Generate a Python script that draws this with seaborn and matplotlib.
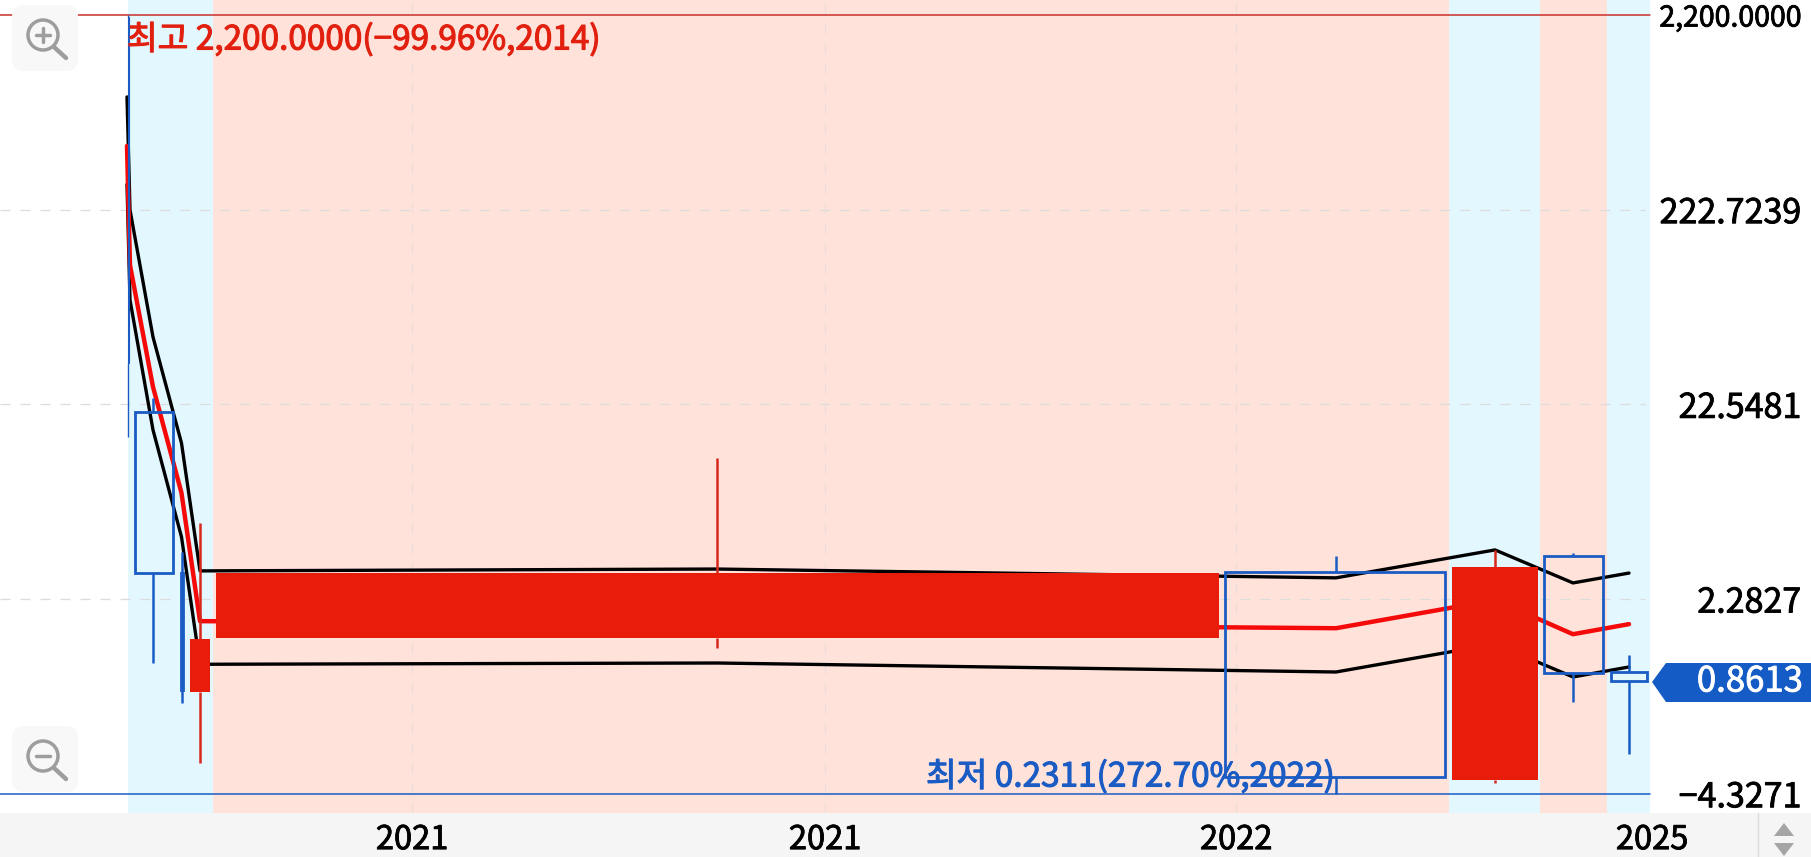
import pandas as pd
import matplotlib.pyplot as plt
import matplotlib.patheffects as pe
import seaborn as sns
from matplotlib.patches import Circle, FancyBboxPatch, Polygon, Rectangle

# Equivolume candles: x is cumulative volume position, so widths differ
candle_left = [127.5, 134.5, 180.5, 190, 216, 1225, 1452, 1543.5, 1610.5]
candle_width = [1, 38.5, 2, 20, 1002.5, 220, 86, 59.5, 36.5]
candle_x = [128, 153, 181.5, 200, 717, 1336, 1495, 1573, 1629]
candle_top = [2150, 20.6, 3.10, 1.427, 3.10, 3.14, 3.33, 3.79, 0.968]
candle_bottom = [36.7, 3.10, 0.783, 0.765, 1.444, 0.2815, 0.2717, 0.957, 0.871]
candle_high = [2200, 24.3, 3.97, 5.59, 12.0, 3.79, 4.07, 3.93, 1.18]
candle_low = [15.4, 1.076, 0.672, 0.332, 1.284, 0.2311, 0.2623, 0.68, 0.369]
candle_up = [False, False, False, True, True, False, True, False, False]

# Moving average and its two bands
line_x = [127, 130, 153, 181.5, 200, 717, 1336, 1495, 1573, 1629]
upper_band = [839, 222, 49.8, 14.3, 3.18, 3.25, 2.93, 4.07, 2.76, 3.10]
middle_line = [471, 116, 27.7, 7.95, 1.76, 1.72, 1.62, 2.26, 1.51, 1.70]
lower_band = [300, 77, 16.7, 4.74, 1.06, 1.076, 0.968, 1.346, 0.913, 1.027]

# Background regimes
region_edges = [128, 213, 1448.5, 1540, 1606.5, 1650]
region_colors = ['#e3f7ff', '#ffe3db', '#e3f7ff', '#ffe3db', '#e3f7ff']

y_ticks = [2200, 222.7239, 22.5481, 2.2827, 0.2311]
y_tick_labels = ['2,200.0000', '222.7239', '22.5481', '2.2827', '\u22124.3271']
x_ticks = [412, 825, 1236, 1652]
x_tick_labels = ['2021', '2021', '2022', '2025']

high_value = 2200
low_value = 0.2311
last_price = '0.8613'
high_text = '최고 2,200.0000(\u221299.96%,2014)'
low_text = '최저 0.2311(272.70%,2022)'

RED = '#e81c0a'
WICK_RED = '#d8281c'
BLUE = '#1a5cc4'
W, H = 1811, 857

sns.set_theme(style='white')
plt.rcParams['font.family'] = ['Noto Sans CJK KR', 'DejaVu Sans']


def heavier(text, color, width=0.6):
    # the reference uses a medium weight, regular plus a thin stroke is close
    text.set_path_effects([pe.withStroke(linewidth=width, foreground=color)])


fig = plt.figure(figsize=(W / 100, H / 100), dpi=100, facecolor='white')
fig.add_artist(Rectangle((0, 0), 1, 44 / H, transform=fig.transFigure,
                         facecolor='#f5f5f5', edgecolor='none', zorder=-1))

ax = fig.add_axes([0, 44 / H, 1652 / W, 813 / H])
ax.set_yscale('log')
ax.set_xlim(0, 1652)
ax.set_ylim(0.1843, 2624)
ax.set_facecolor('white')
for side in ax.spines.values():
    side.set_visible(False)

for i, color in enumerate(region_colors):
    ax.axvspan(region_edges[i], region_edges[i + 1], color=color, lw=0, zorder=0)

ax.set_yticks(y_ticks)
ax.set_yticklabels(y_tick_labels, fontsize=24.5, color='black', ha='right')
ax.minorticks_off()
ax.yaxis.tick_right()
ax.tick_params(axis='y', length=0, pad=107.5)
ax.get_yticklabels()[0].set_fontsize(20.5)
for label in ax.get_yticklabels():
    heavier(label, 'black')
ax.set_xticks(x_ticks)
ax.set_xticklabels(x_tick_labels, fontsize=23.5, color='black')
ax.tick_params(axis='x', length=0, pad=8)
for label in ax.get_xticklabels():
    heavier(label, 'black')

for y in y_ticks[1:4]:
    ax.axhline(y, xmax=1645 / 1652, color='#dcdcdc', lw=0.9, dashes=(8, 8), zorder=1)
for x in x_ticks[:3]:
    ax.axvline(x, color='#eadcd8', lw=0.9, dashes=(8, 8), zorder=1)

ax.axhline(high_value, xmax=1650 / 1652, color='#c8302a', lw=1.1, zorder=2)
ax.axhline(low_value, xmax=1650 / 1652, color=BLUE, lw=1.1, zorder=2)

lines = pd.DataFrame({'x': line_x, 'upper': upper_band,
                      'middle': middle_line, 'lower': lower_band})
sns.lineplot(data=lines, x='x', y='upper', color='black', lw=2.4, ax=ax,
             sort=False, estimator=None, zorder=3)
sns.lineplot(data=lines, x='x', y='lower', color='black', lw=2.4, ax=ax,
             sort=False, estimator=None, zorder=3)
sns.lineplot(data=lines, x='x', y='middle', color='#f50a0a', lw=3.2, ax=ax,
             sort=False, estimator=None, zorder=3)
ax.set_xlabel('')
ax.set_ylabel('')

for i in range(len(candle_x)):
    wick = WICK_RED if candle_up[i] else BLUE
    thin = candle_width[i] <= 1
    wick_lw = 1.0 if thin else 1.8
    ax.vlines(candle_x[i], candle_top[i], candle_high[i], color=wick, lw=wick_lw, zorder=4)
    ax.vlines(candle_x[i], candle_low[i], candle_bottom[i], color=wick, lw=wick_lw, zorder=4)
    height = candle_top[i] - candle_bottom[i]
    if candle_up[i]:
        ax.bar(candle_left[i], height, width=candle_width[i], bottom=candle_bottom[i],
               align='edge', color=RED, lw=0, zorder=5)
    else:
        ax.bar(candle_left[i], height, width=candle_width[i], bottom=candle_bottom[i],
               align='edge', facecolor='none', edgecolor=BLUE,
               lw=0.8 if thin else 2.0, zorder=5)

t = ax.text(127, 1639, high_text, color='#e2200f', fontsize=24, va='center', ha='left', zorder=6)
heavier(t, '#e2200f', 0.8)
t = ax.text(926, 0.2815, low_text, color=BLUE, fontsize=24, va='center', ha='left', zorder=6)
heavier(t, BLUE, 0.8)

# Chart controls and the price tag, drawn in pixel coordinates
ui = fig.add_axes([0, 0, 1, 1], zorder=5)
ui.set_xlim(0, W)
ui.set_ylim(H, 0)
ui.axis('off')
ui.patch.set_alpha(0)

for cy, plus in [(38, True), (759, False)]:
    ui.add_patch(FancyBboxPatch((20, cy - 25), 50, 50, boxstyle='round,pad=8,rounding_size=12',
                                facecolor='#f8f8f8', edgecolor='none'))
    ui.add_patch(Circle((43, cy - 3), 15, facecolor='none', edgecolor='#9d9d9d', lw=2.5))
    ui.plot([54, 66], [cy + 9, cy + 20], color='#9d9d9d', lw=3.2, solid_capstyle='round')
    ui.plot([36, 50], [cy - 3, cy - 3], color='#9d9d9d', lw=2.5)
    if plus:
        ui.plot([43, 43], [cy - 10, cy + 4], color='#9d9d9d', lw=2.5)

ui.add_patch(Polygon([(1652, 682), (1666, 663), (1811, 663), (1811, 702), (1666, 702)],
                     facecolor='#155bc6', edgecolor='none'))
t = ui.text(1803, 682, last_price, color='white', fontsize=25, ha='right', va='center')
heavier(t, 'white')

ui.plot([1758, 1758], [813, 857], color='#dcdcdc', lw=1)
ui.add_patch(Polygon([(1774, 836), (1784, 823), (1794, 836)], facecolor='#a5a5a5', edgecolor='none'))
ui.add_patch(Polygon([(1774, 843), (1794, 843), (1784, 856)], facecolor='#a5a5a5', edgecolor='none'))

fig.savefig('out.png', dpi=100)
